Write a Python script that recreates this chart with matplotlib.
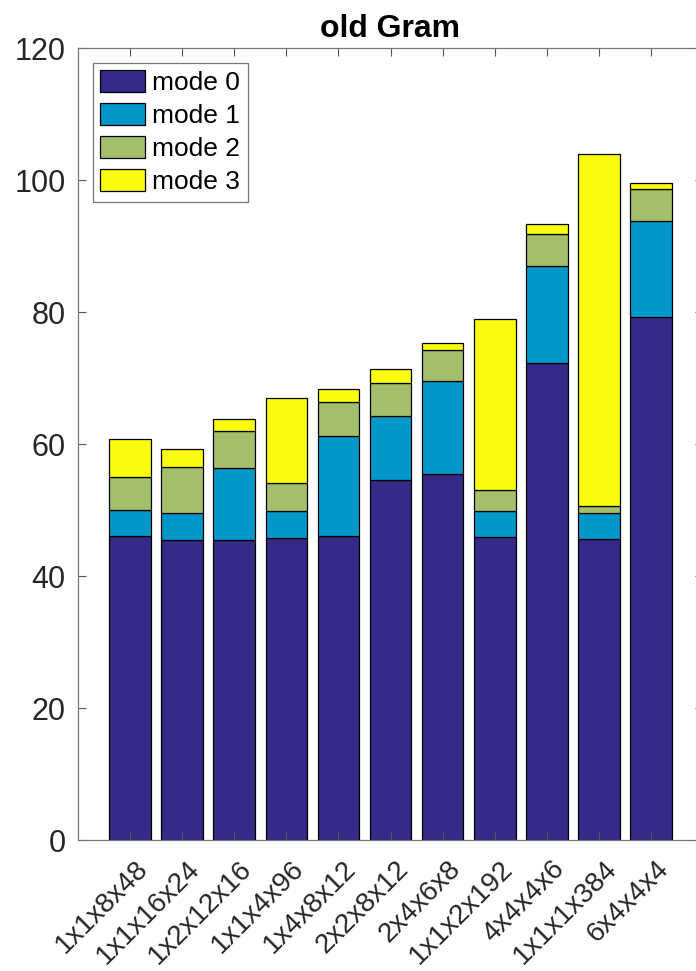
import numpy as np
import matplotlib.pyplot as plt
from matplotlib.transforms import ScaledTranslation

plt.rcParams['font.family'] = ['Liberation Sans', 'DejaVu Sans']

shapes = ['1x1x8x48', '1x1x16x24', '1x2x12x16', '1x1x4x96', '1x4x8x12',
          '2x2x8x12', '2x4x6x8', '1x1x2x192', '4x4x4x6', '1x1x1x384', '6x4x4x4']

# time per mode (stacked)
mode0 = [46.1, 45.5, 45.5, 45.8, 46.0, 54.5, 55.4, 45.9, 72.2, 45.6, 79.2]
mode1 = [3.9, 4.0, 10.9, 4.0, 15.2, 9.7, 14.1, 4.0, 14.8, 3.9, 14.6]
mode2 = [5.0, 7.0, 5.5, 4.3, 5.1, 5.0, 4.7, 3.1, 4.8, 1.1, 4.9]
mode3 = [5.8, 2.7, 1.9, 12.8, 2.0, 2.1, 1.1, 25.9, 1.6, 53.3, 0.9]

labels = ['mode 0', 'mode 1', 'mode 2', 'mode 3']
colors = ['#352A87', '#0098C9', '#A5BE6B', '#F9FB0E']

fig = plt.figure(figsize=(6.96, 9.71), dpi=100)
ax = fig.add_axes([78/696, 131/971, 625/696, 792/971])

x = np.arange(1, len(shapes) + 1)
bottom = np.zeros(len(shapes))
for vals, lab, col in zip([mode0, mode1, mode2, mode3], labels, colors):
    ax.bar(x, vals, width=0.8, bottom=bottom, color=col, edgecolor='black',
           linewidth=0.9, label=lab)
    bottom += np.array(vals)

ax.set_xlim(0, 12)
ax.set_ylim(0, 120)
ax.set_yticks(range(0, 121, 20))
ax.set_xticks(x)
ax.set_xticklabels(shapes, rotation=45, ha='right', va='center',
                   rotation_mode='anchor', fontsize=20, color='#262626')
ax.tick_params(axis='y', labelsize=22, labelcolor='#262626', pad=9)
ax.tick_params(direction='in', length=6, top=True, right=True, width=0.8,
               color='#555555')
ax.tick_params(axis='x', pad=0)
# shift rotated labels so their ends sit just right of and below each tick
shift = ScaledTranslation(0.14, -0.25, fig.dpi_scale_trans)
for t in ax.get_xticklabels():
    t.set_transform(t.get_transform() + shift)
for s in ax.spines.values():
    s.set_color('#777777')
    s.set_linewidth(0.9)

ax.set_title('old Gram', fontsize=23, fontweight='bold', pad=8)

leg = ax.legend(loc='upper left', fontsize=19, frameon=True, fancybox=False,
                edgecolor='#555555', handlelength=1.7, handleheight=0.9,
                handletextpad=0.25, labelspacing=0.3, borderpad=0.3,
                borderaxespad=0.55)
leg.get_frame().set_linewidth(0.9)

fig.savefig('out.png', dpi=100)
